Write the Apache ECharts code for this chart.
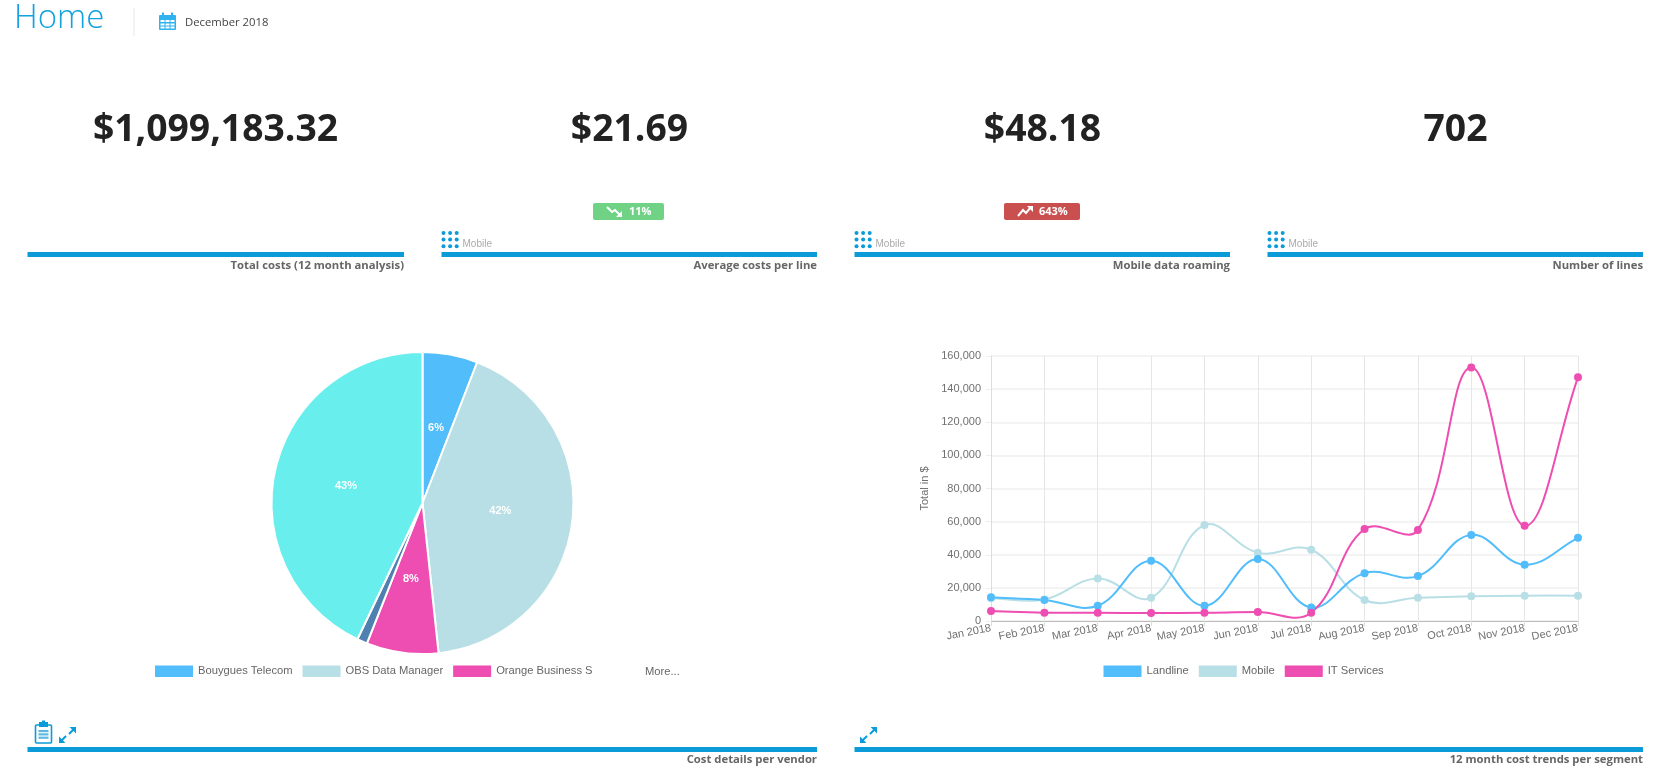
<!DOCTYPE html>
<html><head><meta charset="utf-8">
<script src="https://cdn.jsdelivr.net/npm/echarts@6/dist/echarts.min.js"></script>
<style>html,body{margin:0;padding:0;background:#fff}#c{width:1656px;height:775px}</style>
</head><body><div id="c"></div>
<script>
var months=['Jan 2018','Feb 2018','Mar 2018','Apr 2018','May 2018','Jun 2018','Jul 2018','Aug 2018','Sep 2018','Oct 2018','Nov 2018','Dec 2018'];
var landline=[14300,12700,9200,36400,9200,37400,8200,28900,27100,52000,34000,50200];
var mobile=[13700,13000,25700,14000,57900,41200,43000,12700,14000,14900,15300,15300];
var itServices=[6000,5000,5000,4800,5000,5400,5000,55500,55000,153000,57500,147100];
var vendorNames=['Bouygues Telecom','OBS Data Manager','Orange Business S','Other vendor','Other vendors 2'];
var vendorValues=[5.9,42.4,7.7,1.1,42.9];
var vendorLabels=['6%','42%','8%','','43%'];
var kpiValues=['$1,099,183.32','$21.69','$48.18','702'];
var kpiTitles=['Total costs (12 month analysis)','Average costs per line','Mobile data roaming','Number of lines'];
var panelTitles=['Cost details per vendor','12 month cost trends per segment'];
var BLUE='#0a9bd8';
var kpiCenters=[215.5,629.5,1042.5,1455.5];
var kpiBars=[[27.5,404],[441.5,817],[854.5,1230],[1267.5,1643]];
var g=[];
function txt(x,y,t,font,fill,align){g.push({type:'text',silent:true,style:{x:x,y:y,text:t,font:font,fill:fill,textAlign:align||'left',textVerticalAlign:'middle'}});}
function rect(x,y,w,h,fill,r){g.push({type:'rect',silent:true,shape:{x:x,y:y,width:w,height:h,r:r||0},style:{fill:fill}});}
function line(pts,stroke,w){g.push({type:'polyline',silent:true,shape:{points:pts},style:{stroke:stroke,lineWidth:w,fill:null}});}
function poly(pts,fill){g.push({type:'polygon',silent:true,shape:{points:pts},style:{fill:fill}});}
function dots(x,y){for(var i=0;i<3;i++)for(var j=0;j<3;j++)g.push({type:'circle',silent:true,shape:{cx:x+2+i*6.6,cy:y+2+j*6.6,r:2},style:{fill:BLUE}});}
function expand(x,y){
  poly([[x+10.5,y+0.5],[x+17,y+0.5],[x+17,y+7]],BLUE);
  line([[x+15,y+2.5],[x+10,y+7.5]],BLUE,2);
  poly([[x,y+10],[x,y+16.5],[x+6.5,y+16.5]],BLUE);
  line([[x+2,y+14.5],[x+7,y+9.5]],BLUE,2);
}
txt(14,18.5,'Home','300 33px "Open Sans"','#12a2de');
rect(133,8,2,28,'#f3f3f3');
rect(159,15,17,15,'#2fb2ee',1);rect(162,12.5,2,4,'#2fb2ee');rect(171,12.5,2,4,'#2fb2ee');
[20,23.5,26.5].forEach(function(y){rect(160.5,y,14,2,'#fff');});
[164.5,169.5].forEach(function(x){rect(x,19,1,10,'#2fb2ee');});
txt(185,22.5,'December 2018','11.3px "Open Sans"','#444');
kpiValues.forEach(function(v,i){txt(kpiCenters[i],130,v,'bold 37.3px "Open Sans"','#222','center');});
kpiBars.forEach(function(b,i){
  rect(b[0],252,b[1]-b[0],5,BLUE);
  txt(b[1],265.5,kpiTitles[i],'bold 11.3px "Open Sans"','#666','right');
  if(i>0){dots(b[0],231);txt(b[0]+21,244,'Mobile','10px "Liberation Sans"','#aaa');}
});
rect(593,203,71,17,'#6fd284',2);
line([[607,207],[612,212],[615,210],[621,216]],'#fff',2);poly([[616,217],[622,217],[622,211]],'#fff');
txt(629,211.5,'11%','bold 11px "Open Sans"','#fff');
rect(1004,203,76,17,'#c9504f',2);
line([[1018,216],[1023,210],[1026,213],[1031,207]],'#fff',2);poly([[1027,206],[1033,206],[1033,212]],'#fff');
txt(1039,211.5,'643%','bold 11px "Open Sans"','#fff');
rect(27.5,747,789.5,5,BLUE);rect(854.5,747,788.5,5,BLUE);
txt(817,760,panelTitles[0],'bold 11.3px "Open Sans"','#666','right');
txt(1643,760,panelTitles[1],'bold 11.3px "Open Sans"','#666','right');
g.push({type:'rect',silent:true,shape:{x:35.5,y:725,width:16,height:18,r:1},style:{stroke:BLUE,lineWidth:1.6,fill:'#fff'}});
rect(39,722,9,5,BLUE);rect(42,720.5,3,3,BLUE);
[730,733.3,736.6].forEach(function(y){rect(38.5,y,10,2.2,'#5cb8e0');});
expand(59,726.5);expand(860,726.5);
txt(645,671.5,'More...','11.2px "Liberation Sans"','#666');

var axisTxt={color:'#707070',fontFamily:'"Liberation Sans"',fontSize:11};
var TENSION=0.4;
function curve(name,data,color){return {name:name+' curve',type:'custom',coordinateSystem:'cartesian2d',silent:true,animation:false,z:2,clip:false,
  data:data.map(function(v,i){return [i,v];}),encode:{x:0,y:1},
  renderItem:function(params,api){
    var i=params.dataIndex;if(i>=data.length-1)return null;
    function P(k){k=Math.max(0,Math.min(data.length-1,k));return api.coord([k,data[k]]);}
    function cps(k){var a=P(k-1),b=P(k),c=P(k+1);
      var d01=Math.hypot(b[0]-a[0],b[1]-a[1]),d12=Math.hypot(c[0]-b[0],c[1]-b[1]);
      var s=(d01+d12)||1,fa=TENSION*d01/s,fb=TENSION*d12/s;
      return {p:[b[0]-fa*(c[0]-a[0]),b[1]-fa*(c[1]-a[1])],n:[b[0]+fb*(c[0]-a[0]),b[1]+fb*(c[1]-a[1])]};}
    var s=P(i),e=P(i+1),c0=cps(i).n,c1=cps(i+1).p;
    return {type:'bezierCurve',shape:{x1:s[0],y1:s[1],x2:e[0],y2:e[1],cpx1:c0[0],cpy1:c0[1],cpx2:c1[0],cpy2:c1[1]},
      style:{stroke:color,lineWidth:2,fill:null}};
  }};}
function ser(name,data,color){return {name:name,type:'line',data:data,symbol:'circle',symbolSize:8,showSymbol:true,z:3,
  lineStyle:{color:color,width:0,opacity:0},itemStyle:{color:color},animation:false};}
var C={land:'#52bdfb',mob:'#b8dfe5',it:'#ee4db2'};
var option={animation:false,backgroundColor:'#fff',
 grid:{left:991,right:78,top:356,height:265,containLabel:false},
 xAxis:{type:'category',data:months,boundaryGap:false,
   axisLine:{lineStyle:{color:'#bbb',width:1}},axisTick:{show:true,length:5,lineStyle:{color:'#ddd'}},
   axisLabel:Object.assign({rotate:11,margin:7,interval:0},axisTxt),
   splitLine:{show:true,lineStyle:{color:'#e6e6e6',width:1}}},
 yAxis:{type:'value',min:0,max:160000,interval:20000,name:'Total in $',nameLocation:'middle',nameGap:61,
   nameTextStyle:axisTxt,
   axisLine:{show:true,lineStyle:{color:'#ddd'}},axisTick:{show:true,length:5,lineStyle:{color:'#eee'}},
   axisLabel:Object.assign({margin:10,formatter:function(v){return v.toLocaleString('en-US');}},axisTxt),
   splitLine:{lineStyle:{color:'#efefef',width:1.5}}},
 legend:[
  {data:vendorNames.slice(0,3),left:155,top:665.5,icon:'rect',itemWidth:38,itemHeight:11.5,itemGap:10,selectedMode:false,
   itemStyle:{borderWidth:0},
   textStyle:{color:'#666',fontFamily:'"Liberation Sans"',fontSize:11.2},padding:0},
  {data:['Landline','Mobile','IT Services'],left:1103.5,top:665.5,icon:'rect',itemWidth:38,itemHeight:11.5,itemGap:10,selectedMode:false,
   textStyle:{color:'#666',fontFamily:'"Liberation Sans"',fontSize:11.2},padding:0}
 ],
 series:[
  curve('Mobile',mobile,C.mob),curve('Landline',landline,C.land),curve('IT Services',itServices,C.it),
  ser('Mobile',mobile,C.mob),ser('Landline',landline,C.land),ser('IT Services',itServices,C.it),
  {type:'pie',center:[422.5,503],radius:[0,151],startAngle:90,animation:false,silent:true,
   data:vendorNames.map(function(n,i){return {name:n,value:vendorValues[i],
     itemStyle:{color:[C.land,C.mob,C.it,'#4f81b0','#69eeee'][i]},
     label:{offset:[[-1,2],[0,-2],[-1,-2],[0,0],[0,0]][i]}};}),
   itemStyle:{borderColor:'#fff',borderWidth:2},
   label:{show:true,position:'inside',color:'#fff',fontWeight:'bold',fontSize:11,fontFamily:'"Liberation Sans"',
     formatter:function(p){return vendorLabels[p.dataIndex];}},
   labelLine:{show:false}}
 ],
 graphic:g
};
echarts.init(document.getElementById('c')).setOption(option);
</script></body></html>
